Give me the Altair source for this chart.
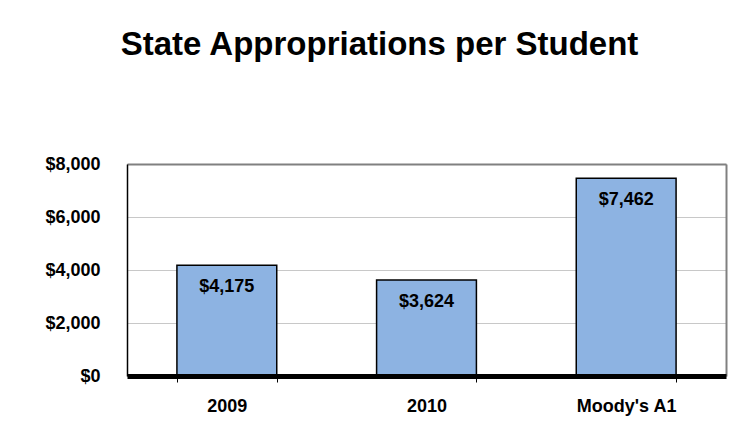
import altair as alt
import pandas as pd

categories = ["2009", "2010", "Moody's A1"]
values = [4175, 3624, 7462]
y_ticks = [0, 2000, 4000, 6000, 8000]

df = pd.DataFrame({"cat": categories, "val": values})
df["label"] = ["$" + f"{v:,}" for v in values]

FONT = "Liberation Sans"
xscale = alt.Scale(paddingInner=0.5, paddingOuter=0.25)
yscale = alt.Scale(domain=[0, 8000], nice=False)

x = alt.X(
    "cat:N",
    sort=categories,
    scale=xscale,
    axis=alt.Axis(
        title=None,
        labelAngle=0,
        labelFont=FONT,
        labelFontSize=18,
        labelFontWeight="bold",
        labelColor="black",
        labelPadding=15,
        domainColor="black",
        domainWidth=5,
        tickBand="extent",
        tickColor="black",
        tickSize=6,
        tickWidth=1,
        grid=False,
        zindex=2,
    ),
)
y = alt.Y(
    "val:Q",
    scale=yscale,
    axis=alt.Axis(
        title=None,
        values=y_ticks,
        format="$,.0f",
        labelFont=FONT,
        labelFontSize=18,
        labelFontWeight="bold",
        labelColor="black",
        labelPadding=27,
        tickSize=0,
        domainColor="black",
        domainWidth=1.5,
        gridColor="#C8C8C8",
        gridWidth=1,
    ),
)

bars = alt.Chart(df).mark_bar(
    color="#8DB3E2", stroke="black", strokeWidth=1.5
).encode(x=x, y=y)

labels = alt.Chart(df).mark_text(
    font=FONT, fontSize=18, fontWeight="bold", color="black",
    baseline="middle", align="center", dy=22
).encode(
    x=alt.X(
        "cat:N", sort=categories, scale=xscale,
        axis=alt.Axis(orient="top", title=None, labels=False, ticks=False,
                      grid=False, domainColor="#808080", domainWidth=2),
    ),
    y=alt.Y(
        "val:Q", scale=yscale,
        axis=alt.Axis(orient="right", title=None, labels=False, ticks=False,
                      grid=False, domainColor="#808080", domainWidth=2),
    ),
    text="label:N",
)

chart = (
    alt.layer(bars, labels)
    .resolve_axis(x="independent", y="independent")
    .properties(
        width=599,
        height=212,
        autosize=alt.AutoSizeParams(type="none"),
        padding={"left": 119, "top": 156, "right": 5, "bottom": 50},
        title=alt.Title(
            "State Appropriations per Student",
            font=FONT,
            fontSize=33,
            fontWeight="bold",
            color="black",
            anchor="middle",
            dx=-47,
            offset=93,
        ),
    )
    .configure_view(stroke=None)
    .configure(background="white")
)

chart.save("out.html", embed_options={"renderer": "svg", "actions": False})
